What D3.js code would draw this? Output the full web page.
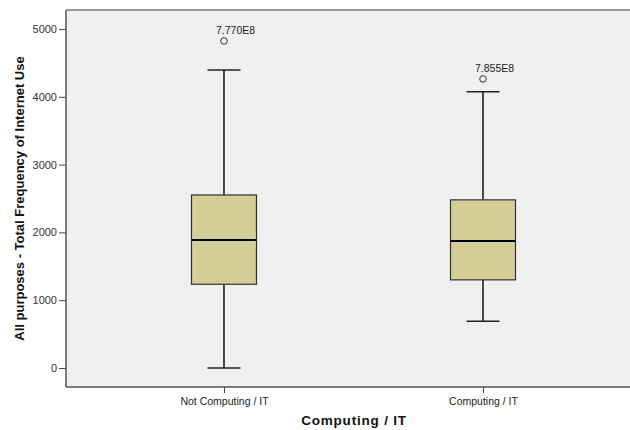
<!DOCTYPE html>
<html>
<head>
<meta charset="utf-8">
<script src="https://cdn.jsdelivr.net/npm/d3@7"></script>
<style>
  html, body { margin: 0; padding: 0; background: #ffffff; }
  svg { display: block; font-family: Arial, "Liberation Sans", sans-serif; }
</style>
</head>
<body>
<svg id="chart" width="630" height="430"></svg>
<script>
// Groups and five-number summaries (whisker low, Q1, median, Q3, whisker high)
const categories = ["Not Computing / IT", "Computing / IT"];
const whiskerLow = [0, 690];
const q1 = [1235, 1300];
const median = [1888, 1875];
const q3 = [2552, 2480];
const whiskerHigh = [4395, 4075];
// Outliers per group with their case labels
const outlierValues = [4823, 4263];
const outlierLabels = ["7.770E8", "7.855E8"];
const yTicks = [0, 1000, 2000, 3000, 4000, 5000];

const svg = d3.select("#chart");
const plot = { left: 66, top: 10, right: 641, bottom: 387 };

const x = d3.scalePoint()
  .domain(categories)
  .range([plot.left, plot.right])
  .padding(0.61);

const y = d3.scaleLinear()
  .domain([-280, 5280])
  .range([plot.bottom, plot.top]);

// Plot background
svg.append("rect")
  .attr("x", plot.left).attr("y", plot.top)
  .attr("width", plot.right - plot.left)
  .attr("height", plot.bottom - plot.top)
  .attr("fill", "#f0f0f0");

// Y axis
const yAxis = svg.append("g")
  .attr("transform", `translate(${plot.left},0)`)
  .call(d3.axisLeft(y).tickValues(yTicks).tickSize(7).tickPadding(2).tickFormat(d3.format("d")));
yAxis.select(".domain").remove();
yAxis.selectAll(".tick line").attr("stroke", "#444").attr("stroke-width", 1);
yAxis.selectAll(".tick text").attr("fill", "#333").attr("font-size", "11px");

// X axis
const xAxis = svg.append("g")
  .attr("transform", `translate(0,${plot.bottom})`)
  .call(d3.axisBottom(x).tickSize(6).tickPadding(5));
xAxis.select(".domain").remove();
xAxis.selectAll(".tick line").attr("stroke", "#444").attr("stroke-width", 1);
xAxis.selectAll(".tick text").attr("fill", "#222").attr("font-size", "10.5px");

// Frame
svg.append("line")
  .attr("x1", plot.left).attr("x2", plot.left)
  .attr("y1", plot.top).attr("y2", plot.bottom)
  .attr("stroke", "#555").attr("stroke-width", 1.5);
svg.append("line")
  .attr("x1", plot.left).attr("x2", plot.right)
  .attr("y1", plot.top).attr("y2", plot.top)
  .attr("stroke", "#777").attr("stroke-width", 1.5);
svg.append("line")
  .attr("x1", plot.left).attr("x2", plot.right)
  .attr("y1", plot.bottom).attr("y2", plot.bottom)
  .attr("stroke", "#555").attr("stroke-width", 1.5);

const boxWidth = 65;
const capWidth = 33;

const groups = svg.append("g").selectAll("g")
  .data(categories.map((c, i) => ({
    c, lo: whiskerLow[i], q1: q1[i], med: median[i], q3: q3[i], hi: whiskerHigh[i],
    out: outlierValues[i], label: outlierLabels[i]
  })))
  .join("g")
  .attr("transform", d => `translate(${x(d.c)},0)`);

// Whiskers
groups.append("line")
  .attr("x1", 0).attr("x2", 0)
  .attr("y1", d => y(d.q3)).attr("y2", d => y(d.hi))
  .attr("stroke", "#111").attr("stroke-width", 1.5);
groups.append("line")
  .attr("x1", 0).attr("x2", 0)
  .attr("y1", d => y(d.q1)).attr("y2", d => y(d.lo))
  .attr("stroke", "#111").attr("stroke-width", 1.5);
groups.append("line")
  .attr("x1", -capWidth / 2).attr("x2", capWidth / 2)
  .attr("y1", d => y(d.hi)).attr("y2", d => y(d.hi))
  .attr("stroke", "#222").attr("stroke-width", 1.5);
groups.append("line")
  .attr("x1", -capWidth / 2).attr("x2", capWidth / 2)
  .attr("y1", d => y(d.lo)).attr("y2", d => y(d.lo))
  .attr("stroke", "#222").attr("stroke-width", 1.5);

// Boxes
groups.append("rect")
  .attr("x", -boxWidth / 2)
  .attr("y", d => y(d.q3))
  .attr("width", boxWidth)
  .attr("height", d => y(d.q1) - y(d.q3))
  .attr("fill", "#d3ce97")
  .attr("stroke", "#333").attr("stroke-width", 1.2);

// Medians
groups.append("line")
  .attr("x1", -boxWidth / 2).attr("x2", boxWidth / 2)
  .attr("y1", d => y(d.med)).attr("y2", d => y(d.med))
  .attr("stroke", "#000").attr("stroke-width", 2);

// Outliers
groups.append("circle")
  .attr("cx", 0).attr("cy", d => y(d.out))
  .attr("r", 3.3)
  .attr("fill", "none")
  .attr("stroke", "#333").attr("stroke-width", 1);
groups.append("text")
  .attr("x", -8).attr("y", d => y(d.out) - 7)
  .attr("fill", "#222").attr("font-size", "10.5px")
  .text(d => d.label);

// Axis titles
svg.append("text")
  .attr("transform", `translate(24,${(plot.top + plot.bottom) / 2}) rotate(-90)`)
  .attr("text-anchor", "middle")
  .attr("font-size", "13px").attr("font-weight", "bold").attr("fill", "#111")
  .text("All purposes - Total Frequency of Internet Use");
svg.append("text")
  .attr("x", 354).attr("y", 425)
  .attr("text-anchor", "middle")
  .attr("font-size", "13.5px").attr("font-weight", "bold").attr("fill", "#111")
  .attr("letter-spacing", "0.8px")
  .text("Computing / IT");
</script>
</body>
</html>
